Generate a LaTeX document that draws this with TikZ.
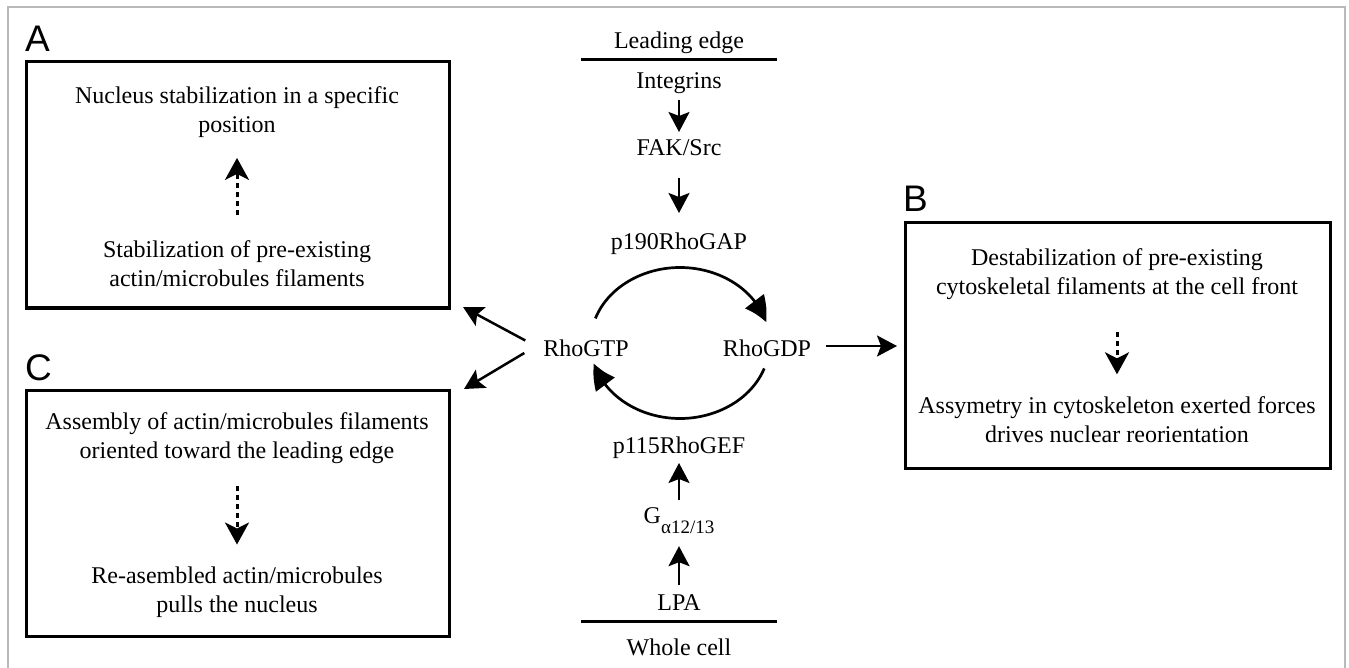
\documentclass[tikz,border=0pt]{standalone}
\usepackage{fontspec}
\setmainfont{Liberation Serif}
\newfontfamily\panelfont{Liberation Sans}
\usetikzlibrary{arrows.meta,bending,calc}
\begin{document}
\begin{tikzpicture}[x=1pt,y=-1pt,
  every node/.style={inner sep=0pt, outer sep=0pt},
  txt/.style={font=\fontsize{24}{29}\selectfont, align=center},
  lbl/.style={font=\fontsize{24}{29}\selectfont, text height=16pt, text depth=5pt, anchor=base},
  panel/.style={draw, line width=3pt},
  tag/.style={font=\panelfont\fontsize{37}{37}\selectfont, anchor=base west},
  bar/.style={line width=3pt},
  sig/.style={line width=2.5pt, -{Stealth[length=20pt,width=21pt,inset=4pt]}},
  dsh/.style={line width=3pt, dash pattern=on 5pt off 4pt, -{Stealth[length=22pt,width=24pt,inset=6pt]}},
  cyc/.style={line width=2.7pt, -{Triangle[length=24pt,width=23pt,bend]}}
]
\useasboundingbox (0,0) rectangle (1349,668);
% thin outer frame
\draw[gray!55, line width=1.2pt] (8,668) -- (8,7) -- (1345,7) -- (1345,668);

% panels
\node[panel, minimum width=423pt, minimum height=246pt] (boxA) at (237.5,185) {};
\node[panel, minimum width=423pt, minimum height=246pt] (boxC) at (237.5,513) {};
\node[panel, minimum width=425pt, minimum height=245pt] (boxB) at (1117.5,345.5) {};
\node[tag] (tagA) at (25,52) {A};
\node[tag] (tagB) at (903,212) {B};
\node[tag] (tagC) at (25,380) {C};

% panel A
\node[txt] (a1) at (237,112.4) {Nucleus stabilization in a specific\\position};
\node[txt] (a2) at (237,263.5) {Stabilization of pre-existing\\actin/microbules filaments};
\draw[dsh, shorten <=25pt, shorten >=20pt] (a2) -- (a1);

% panel C
\node[txt] (c1) at (237,437.9) {Assembly of actin/microbules filaments\\oriented toward the leading edge};
\node[txt] (c2) at (237,591.9) {Re-asembled actin/microbules\\pulls the nucleus};
\draw[dsh, shorten <=23pt, shorten >=22pt] (c1) -- (c2);

% panel B
\node[txt] (b1) at (1117,273.9) {Destabilization of pre-existing\\cytoskeletal filaments at the cell front};
\node[txt] (b2) at (1117,419.4) {Assymetry in cytoskeleton exerted forces\\drives nuclear reorientation};
\draw[dsh, shorten <=33pt, shorten >=22pt] (b1) -- (b2);

% signalling column
\node[lbl] (lead) at (679,49) {Leading edge};
\draw[bar] (581,60) -- (777,60);
\node[lbl] (integ) at (679,89) {Integrins};
\node[lbl] (fak) at (679,156) {FAK/Src};
\node[lbl] (gap) at (679,250) {p190RhoGAP};
\node[lbl] (gtp) at (586,356) {RhoGTP};
\node[lbl] (gdp) at (767,356) {RhoGDP};
\node[lbl] (gef) at (679,453) {p115RhoGEF};
\node[font=\fontsize{24}{29}\selectfont, anchor=base] (galpha) at (679,523)
  {G\raisebox{-10pt}{\fontsize{19}{19}\selectfont α12/13}};
\node[lbl] (lpa) at (679,610) {LPA};
\draw[bar] (581,621) -- (777,621);
\node[lbl] (whole) at (679,655) {Whole cell};

\draw[sig, shorten <=6pt, shorten >=8pt] (integ) -- (fak);
\draw[sig, shorten <=17pt, shorten >=21pt] (fak) -- (gap);
\draw[sig, shorten <=9pt, shorten >=13pt] (lpa) -- (galpha);
\draw[sig, shorten <=7pt, shorten >=5pt] (galpha) -- (gef);

% GTP/GDP cycle
\coordinate (cyc) at (680,343);
\draw[cyc] ($(cyc)+(199:89.5 and 75.5)$) arc[start angle=199, end angle=344, x radius=89.5, y radius=75.5];
\draw[cyc] ($(cyc)+(19.7:89.5 and 75.5)$) arc[start angle=19.7, end angle=164.2, x radius=89.5, y radius=75.5];

% outputs of the cycle
\draw[sig] ($(gtp.west)+(-18,-10)$) -- ($(boxA.south east)+(14,-1)$);
\draw[sig] ($(gtp.west)+(-19,2.5)$) -- ($(boxC.north east)+(15,-1)$);
\draw[sig] ($(gdp.east)+(15,-4.5)$) -- ($(gdp.east -| boxB.west)+(-8,-4.5)$);
\end{tikzpicture}
\end{document}
